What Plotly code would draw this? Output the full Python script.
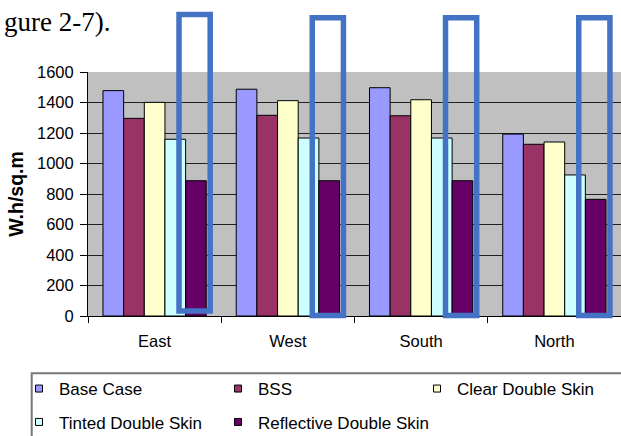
import plotly.graph_objects as go

# ---------------- data ----------------
categories = ["East", "West", "South", "North"]
series_names = ["Base Case", "BSS", "Clear Double Skin",
                "Tinted Double Skin", "Reflective Double Skin"]
base_case = [1478, 1487, 1497, 1193]
bss = [1296, 1316, 1313, 1126]
clear_double_skin = [1401, 1412, 1418, 1141]
tinted_double_skin = [1159, 1167, 1167, 925]
reflective_double_skin = [887, 887, 887, 765]
y_tick_values = [0, 200, 400, 600, 800, 1000, 1200, 1400, 1600]
y_axis_title = "W.h/sq.m"
caption_text = "gure 2-7)."

series_values = [base_case, bss, clear_double_skin,
                 tinted_double_skin, reflective_double_skin]

# ---------------- styles ----------------
colors = ["#9999FF", "#993366", "#FFFFCC", "#CCFFFF", "#660066"]
legend_of = ["legend", "legend", "legend", "legend2", "legend2"]
legend_entry_width = [None, None, 140, None, 190]
W, H = 640, 436            # figure a little wider than the 621 px window:
M_L, M_R, M_T, M_B = 88, 19, 72, 120   # plot area runs to the window's right edge
PW, PH = W - M_L - M_R, H - M_T - M_B
FONT = "Liberation Sans, Arial, sans-serif"
BOX_BLUE = "#4472C4"


def px_x(p):
    return (p - M_L) / PW


def px_y(p):
    return (H - M_B - p) / PH


fig = go.Figure()

for name, vals, col in zip(series_names, series_values, colors):
    fig.add_trace(go.Bar(
        x=categories, y=vals, name=name,
        marker=dict(color=col, line=dict(color="#000000", width=1)),
        showlegend=False,
    ))

# legend entries (small square swatches as in the original)
for name, col, lg, lw in zip(series_names, colors, legend_of, legend_entry_width):
    fig.add_trace(go.Scatter(
        x=[None], y=[None], mode="markers", name=name, legend=lg,
        marker=dict(symbol="square", size=7, color=col,
                    line=dict(color="#000000", width=1)),
        legendwidth=lw,
    ))

# highlight boxes around the reflective bars (relative to category slots)
for i in range(len(categories)):
    fig.add_shape(type="rect", xref="x", yref="paper",
                  x0=i + 0.183, x1=i + 0.417,
                  y0=px_y(311) if i == 0 else px_y(315.5),
                  y1=px_y(14.5) if i == 0 else px_y(17.8),
                  line=dict(color=BOX_BLUE, width=5.5),
                  fillcolor="rgba(0,0,0,0)", layer="above")

# legend frame
fig.add_shape(type="rect", xref="paper", yref="paper",
              x0=px_x(31.7), x1=px_x(660),
              y0=px_y(373.3), y1=px_y(450),
              line=dict(color="#777777", width=2),
              fillcolor="rgba(0,0,0,0)", layer="above")

fig.add_annotation(text=caption_text, xref="paper", yref="paper",
                   x=px_x(112), y=px_y(22),
                   xanchor="right", yanchor="middle", showarrow=False,
                   font=dict(family="Liberation Serif, Times New Roman, serif",
                             size=27, color="#000000"))

legend_common = dict(orientation="h", xref="paper", yref="paper",
                     xanchor="left", yanchor="top",
                     entrywidth=154, entrywidthmode="pixels",
                     bgcolor="rgba(0,0,0,0)", borderwidth=0,
                     font=dict(family=FONT, size=17, color="#000000"))

fig.update_layout(
    width=W, height=H,
    margin=dict(l=M_L, r=M_R, t=M_T, b=M_B, pad=0, autoexpand=False),
    paper_bgcolor="#FFFFFF",
    plot_bgcolor="#C0C0C0",
    barmode="group", bargap=0.225, bargroupgap=0,
    font=dict(family=FONT, size=16, color="#000000"),
    legend=dict(x=px_x(19), y=px_y(371), **legend_common),
    legend2=dict(x=px_x(19), y=px_y(404.4), **legend_common),
    xaxis=dict(
        type="category", showline=True, linecolor="#000000", linewidth=1,
        ticks="outside", tickson="boundaries", ticklen=6, tickcolor="#000000",
        tickfont=dict(family=FONT, size=16.5, color="#000000"),
        ticklabelstandoff=10, showgrid=False, zeroline=False,
    ),
    yaxis=dict(
        range=[0, 1600], tickvals=y_tick_values,
        showline=True, linecolor="#000000", linewidth=1,
        ticks="outside", ticklen=7, tickcolor="#000000",
        tickfont=dict(family=FONT, size=16.5, color="#000000"),
        ticklabelstandoff=3,
        showgrid=True, gridcolor="#202020", gridwidth=1, zeroline=False,
        title=dict(text=y_axis_title, standoff=8,
                   font=dict(family=FONT, size=19.5, color="#000000", weight="bold")),
    ),
)

fig.write_html("out.html",
               config={"displayModeBar": False, "responsive": False},
               post_script="document.documentElement.style.overflow='hidden';"
                           "document.body.style.margin='0px';"
                           "document.body.style.overflow='hidden';")
